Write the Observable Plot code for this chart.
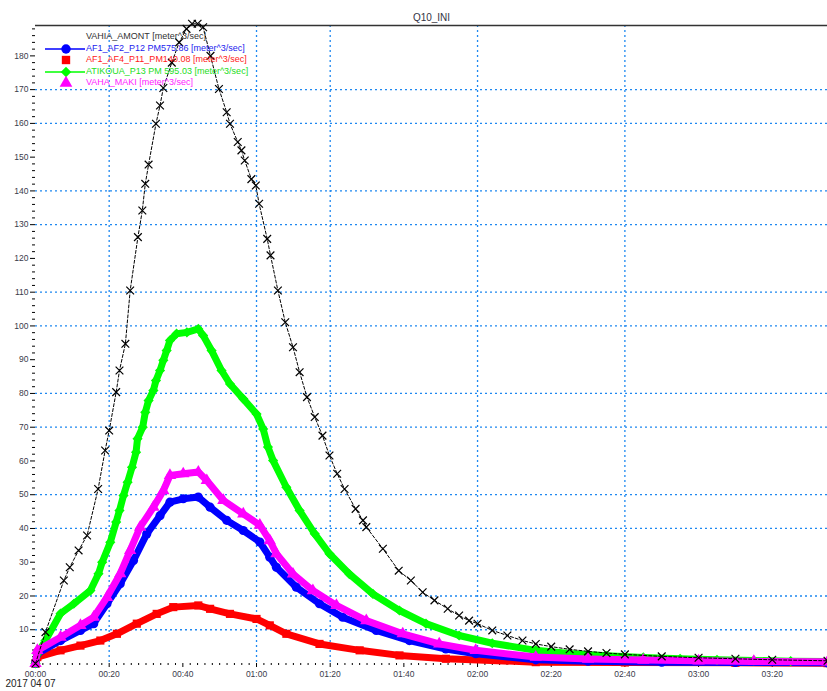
<!DOCTYPE html>
<html><head><meta charset="utf-8">
<script src="https://cdn.jsdelivr.net/npm/d3@7"></script>
<script src="https://cdn.jsdelivr.net/npm/@observablehq/plot@0.6"></script>
<style>
html,body{margin:0;padding:0;background:#fff;}
#wrap{position:relative;width:827px;height:691px;overflow:hidden;}
#legend{position:absolute;left:45px;top:31px;font:9px "Liberation Sans",Arial,sans-serif;}
.row{height:11.6px;line-height:11.6px;position:relative;white-space:nowrap;}
.row svg{position:absolute;left:0;top:0;overflow:visible;}
.row span{position:absolute;left:41px;top:0;}
</style></head><body><div id="wrap"></div>
<script>
// ---- data (time in minutes after 2017-04-07 00:00, flow in m^3/s) ----
const title = "Q10_INI";
const dateLabel = "2017 04 07";
const xTickMinutes = [0, 20, 40, 60, 80, 100, 120, 140, 160, 180, 200];
const xTickLabels = ["00:00","00:20","00:40","01:00","01:20","01:40","02:00","02:20","02:40","03:00","03:20"];
const xGridMinutes = [20, 60, 80, 120, 160];
const yTickValues = [10,20,30,40,50,60,70,80,90,100,110,120,130,140,150,160,170,180];
const yGridValues = [10,20,40,50,70,80,100,110,130,140,160,170];
const xMax = 215, yMax = 189;

const seriesNames = [
  "VAHIA_AMONT [meter^3/sec]",
  "AF1_AF2_P12 PM575.86 [meter^3/sec]",
  "AF1_AF4_P11_PM140.08 [meter^3/sec]",
  "ATIKOUA_P13 PM 595.03 [meter^3/sec]",
  "VAHA_MAKI [meter^3/sec]"
];

const blackTime = [0,2.7,7.7,9.3,11.7,14,17,18.9,20,21.9,22.8,24.4,25.7,27.8,29,29.8,30.7,32.7,33.8,34.7,37,39,41,42.5,44,45.5,47.5,49.8,51.9,52.8,54.9,55.9,56.8,58.6,59.8,60.7,62.9,63.8,65.8,67.8,69.9,71.7,73.7,75.8,77.9,79.8,81.9,83.9,86.9,88.9,89.8,94.3,98.6,101.9,105.1,108.3,111.9,115,117.7,120,124,128.1,132.2,135.8,140,145,150,155,160,170,180,190,200,215];
const blackFlow = [0,9.3,24.6,28.5,33.5,37.9,51.7,63.1,69,80.4,86.8,94.7,110.5,126.3,134.2,142.1,147.8,159.9,165.3,170.5,178,184,188,189.5,189.5,188.5,180,170.2,163.3,159.9,154.5,152,149,143.5,141.6,136.2,125.8,120.9,110.5,101.1,93.7,86.3,78.9,73,67.5,61.6,56.2,51.7,45.8,42.4,40.4,34,27.5,24.6,21.1,18.7,16.2,14.2,12.7,11.8,9.8,8.3,6.8,5.8,5.0,4.2,3.6,3.1,2.7,2.1,1.7,1.4,1.1,0.8];

const blueTime = [0,0.5,6.8,12.2,15.8,19.4,23,26.6,30.2,33.8,36.5,40.1,44.2,47.4,51.9,56.4,60.9,63.6,65.4,70.8,77.1,83.4,92.5,101.5,111.4,119.5,135.8,150,170,190,215];
const blueFlow = [0,2.9,6.8,9.8,11.8,17.7,23.6,30.5,38.4,43.8,47.8,48.8,49.3,46.3,42.4,39.4,36,31.5,28.5,22.6,17.7,13.7,9.8,6.8,4.3,2.9,1.1,0.7,0.4,0.3,0.2];

const redTime = [0,0.5,6.8,12.2,17.6,22.1,27.5,32.9,37.4,44.2,47.4,52.8,60,63.6,68.1,77.1,88,98.8,111.4,135.8,160,190,215];
const redFlow = [0,1.9,3.9,5.3,6.8,8.8,11.8,14.7,16.7,17.2,16.2,14.7,13.2,11.3,8.8,5.8,3.9,2.4,1.4,0.4,0.3,0.2,0.1];

const greenTime = [0,0.5,2.7,6.8,10.4,14.9,17.1,18.1,20.3,21.9,22.8,23.9,25,26.2,27.3,27.7,29.1,29.8,30.7,32,32.7,33.8,34.7,35.6,36.5,38.3,41.1,44.2,45.5,47.8,50.5,52.8,56.4,60,61.8,63.1,64.5,68.1,71.7,75.8,79.8,85.2,91.6,98.8,106,115,124,135.8,145,155,165,175,185,195,205,215];
const greenFlow = [0,2.9,6.8,14.8,17.7,21.6,26.6,30,35.9,41.9,45.3,49.8,53.7,58.1,62.6,66.6,70,74.4,77.9,80.9,83.8,86.8,89.8,92.7,95.7,97.7,98.1,99.1,97.2,92.7,86.8,82.8,78.4,73.9,69.5,64.1,60.1,52.2,45.3,38.4,32.5,26.5,20.6,15.7,11.8,8.3,6,3.9,3.0,2.3,1.8,1.4,1.1,0.9,0.7,0.6];

const magentaTime = [0,0.5,6.8,12.2,15.8,19.4,23,25.7,28.4,32,34.7,36.5,40.1,44.2,46.5,51,56.4,60.9,63.6,65.4,69.9,75.3,81.7,89.8,99.7,109.6,119.5,135.8,150,165,180,195,215];
const magentaFlow = [0,3.9,7.8,11.3,13.7,19.6,26.6,33.5,40.4,46.3,51.2,55.7,56.2,56.7,54.2,48.3,44.3,41,36.4,32.5,26.5,21.6,17.2,12.7,8.8,5.8,3.9,1.9,1.3,1.0,0.8,0.6,0.5];

const rows = (ts, vs) => ts.map((t, i) => ({t, v: vs[i]}));
const black = rows(blackTime, blackFlow);
const blue = rows(blueTime, blueFlow);
const red = rows(redTime, redFlow);
const green = rows(greenTime, greenFlow);
const magenta = rows(magentaTime, magentaFlow);

const minorX = d3.range(0, xMax + 0.1, 2).filter(m => m % 20 !== 0);
const minorY = d3.range(0, yMax, 2).filter(v => v % 10 !== 0);

const FONT = '"Liberation Sans", Arial, sans-serif';
const GRID = {stroke: "#1e88f0", strokeDasharray: "2,3", strokeWidth: 1.3};
const lbl = "#3a3a4a";

const thick = (data, color, symbol) => [
  Plot.line(data, {x: "t", y: "v", stroke: color, strokeWidth: 7, strokeLinejoin: "round"}),
  Plot.dot(data, {x: "t", y: "v", symbol, r: 4.6, fill: color})
];

const chart = Plot.plot({
  width: 827, height: 691,
  marginLeft: 35, marginRight: 0, marginTop: 25, marginBottom: 28,
  style: {fontFamily: FONT, fontSize: "9px", background: "#fff", overflow: "visible"},
  x: {domain: [0, xMax]},
  y: {domain: [0, yMax]},
  marks: [
    Plot.ruleX(xGridMinutes, GRID),
    Plot.ruleY(yGridValues, GRID),
    Plot.ruleY([yMax], {stroke: "#333", strokeWidth: 1.5}),
    Plot.axisY(yTickValues, {tickSize: 5, tickPadding: 2, fontSize: 8.5, fill: lbl, label: null, tickFormat: d => String(d)}),
    Plot.axisY(minorY, {tickSize: 3, tickPadding: 0, label: null, tickFormat: () => ""}),
    Plot.axisX(xTickMinutes, {tickSize: 4, tickPadding: 3, fontSize: 8.5, fill: lbl, label: null, tickFormat: (d, i) => xTickLabels[xTickMinutes.indexOf(d)]}),
    Plot.axisX(minorX, {tickSize: 2, tickPadding: 0, label: null, tickFormat: () => ""}),
    ...thick(red, "#ff0000", "square"),
    ...thick(blue, "#0000ff", "circle"),
    ...thick(green, "#00ff00", "diamond2"),
    ...thick(magenta, "#ff00ff", "triangle"),
    Plot.line(black, {x: "t", y: "v", stroke: "#000", strokeWidth: 1, strokeDasharray: "3,2"}),
    Plot.dot(black, {x: "t", y: "v", symbol: "times", r: 3.6, stroke: "#000", strokeWidth: 1.2}),
    Plot.text([title], {frameAnchor: "top", dy: -12, fontSize: 10, fill: "#334"}),
    Plot.text([dateLabel], {frameAnchor: "bottom-left", dx: -30, dy: 23, fontSize: 10, fill: "#222"})
  ]
});
const wrap = document.getElementById("wrap");
wrap.appendChild(chart);

// legend overlay
const legendSpec = [
  {color: "#222", text: "#333", symbol: null, line: false},
  {color: "#0000ff", text: "#2222ee", symbol: d3.symbolCircle, line: true},
  {color: "#ff0000", text: "#ff2020", symbol: d3.symbolSquare, line: false},
  {color: "#00ff00", text: "#22dd22", symbol: d3.symbolDiamond2 || d3.symbolSquare, rot: !d3.symbolDiamond2, line: true},
  {color: "#ff00ff", text: "#ff22ff", symbol: d3.symbolTriangle, line: false}
];
const leg = document.createElement("div");
leg.id = "legend";
legendSpec.forEach((s, i) => {
  const row = document.createElement("div");
  row.className = "row";
  const svg = d3.create("svg").attr("width", 40).attr("height", 12);
  if (s.line) svg.append("line").attr("x1", 0).attr("x2", 40).attr("y1", 6).attr("y2", 6).attr("stroke", s.color).attr("stroke-width", 1.5);
  if (s.symbol) svg.append("path").attr("d", d3.symbol(s.symbol, 70)()).attr("transform", `translate(21,6)${s.rot ? " rotate(45)" : ""}`).attr("fill", s.color);
  row.appendChild(svg.node());
  const sp = document.createElement("span");
  sp.textContent = seriesNames[i];
  sp.style.color = s.text;
  row.appendChild(sp);
  leg.appendChild(row);
});
wrap.appendChild(leg);
</script>
</body></html>
